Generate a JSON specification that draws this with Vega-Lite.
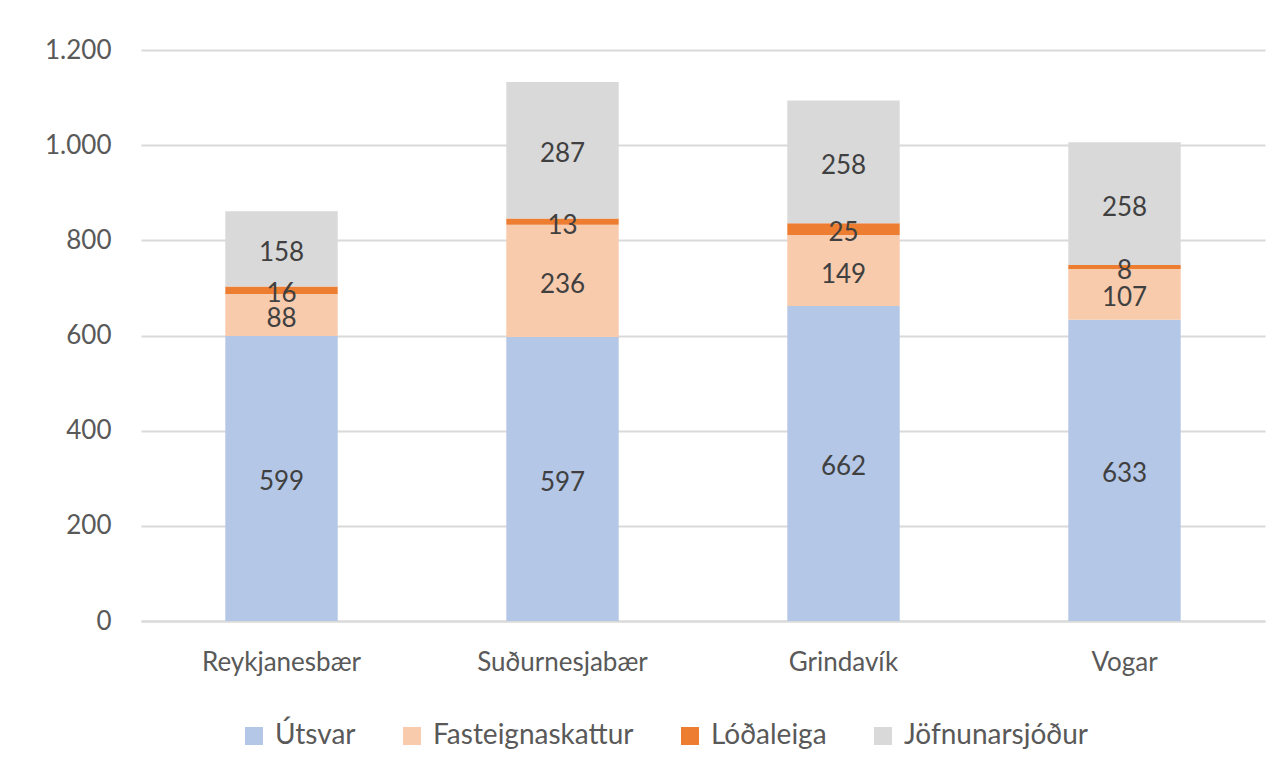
{
  "$schema": "https://vega.github.io/schema/vega-lite/v6.json",
  "width": 1124,
  "height": 571,
  "autosize": {"type": "none"},
  "padding": {"left": 141, "top": 50, "right": 21, "bottom": 162},
  "background": "white",
  "config": {
    "font": "Lato",
    "view": {"stroke": null}
  },
  "data": {
    "values": [
      {"sveitarfelag": "Reykjanesbær", "flokkur": "Útsvar", "rod": 1, "upphaed": 599},
      {"sveitarfelag": "Reykjanesbær", "flokkur": "Fasteignaskattur", "rod": 2, "upphaed": 88},
      {"sveitarfelag": "Reykjanesbær", "flokkur": "Lóðaleiga", "rod": 3, "upphaed": 16},
      {"sveitarfelag": "Reykjanesbær", "flokkur": "Jöfnunarsjóður", "rod": 4, "upphaed": 158},
      {"sveitarfelag": "Suðurnesjabær", "flokkur": "Útsvar", "rod": 1, "upphaed": 597},
      {"sveitarfelag": "Suðurnesjabær", "flokkur": "Fasteignaskattur", "rod": 2, "upphaed": 236},
      {"sveitarfelag": "Suðurnesjabær", "flokkur": "Lóðaleiga", "rod": 3, "upphaed": 13},
      {"sveitarfelag": "Suðurnesjabær", "flokkur": "Jöfnunarsjóður", "rod": 4, "upphaed": 287},
      {"sveitarfelag": "Grindavík", "flokkur": "Útsvar", "rod": 1, "upphaed": 662},
      {"sveitarfelag": "Grindavík", "flokkur": "Fasteignaskattur", "rod": 2, "upphaed": 149},
      {"sveitarfelag": "Grindavík", "flokkur": "Lóðaleiga", "rod": 3, "upphaed": 25},
      {"sveitarfelag": "Grindavík", "flokkur": "Jöfnunarsjóður", "rod": 4, "upphaed": 258},
      {"sveitarfelag": "Vogar", "flokkur": "Útsvar", "rod": 1, "upphaed": 633},
      {"sveitarfelag": "Vogar", "flokkur": "Fasteignaskattur", "rod": 2, "upphaed": 107},
      {"sveitarfelag": "Vogar", "flokkur": "Lóðaleiga", "rod": 3, "upphaed": 8},
      {"sveitarfelag": "Vogar", "flokkur": "Jöfnunarsjóður", "rod": 4, "upphaed": 258}
    ]
  },
  "encoding": {
    "x": {
      "field": "sveitarfelag",
      "type": "nominal",
      "sort": ["Reykjanesbær", "Suðurnesjabær", "Grindavík", "Vogar"],
      "scale": {"paddingInner": 0.6, "paddingOuter": 0.3},
      "axis": {
        "title": null,
        "labelAngle": 0,
        "labelFontSize": 26,
        "labelColor": "#595959",
        "labelPadding": 28,
        "ticks": false,
        "domain": true,
        "domainColor": "#D9D9D9",
        "domainWidth": 2
      }
    }
  },
  "layer": [
    {
      "mark": {"type": "bar"},
      "encoding": {
        "y": {
          "field": "upphaed",
          "type": "quantitative",
          "stack": "zero",
          "scale": {"domain": [0, 1200]},
          "axis": {
            "title": null,
            "values": [0, 200, 400, 600, 800, 1000, 1200],
            "labelExpr": "replace(format(datum.value, ','), ',', '.')",
            "labelFontSize": 26,
            "labelColor": "#595959",
            "labelPadding": 30,
            "ticks": false,
            "domain": false,
            "gridColor": "#D9D9D9",
            "gridWidth": 2
          }
        },
        "color": {
          "field": "flokkur",
          "type": "nominal",
          "sort": ["Útsvar", "Fasteignaskattur", "Lóðaleiga", "Jöfnunarsjóður"],
          "scale": {
            "domain": ["Útsvar", "Fasteignaskattur", "Lóðaleiga", "Jöfnunarsjóður"],
            "range": ["#B4C7E7", "#F8CBAD", "#ED7D31", "#D9D9D9"]
          },
          "legend": {
            "title": null,
            "orient": "none",
            "legendX": 99,
            "legendY": 672,
            "direction": "horizontal",
            "symbolType": "square",
            "symbolSize": 324,
            "symbolStrokeWidth": 0,
            "labelFontSize": 28,
            "labelColor": "#595959",
            "labelLimit": 0,
            "columnPadding": 42,
            "labelOffset": 7,
            "padding": 0
          }
        },
        "order": {"field": "rod", "type": "quantitative"}
      }
    },
    {
      "mark": {"type": "text", "fontSize": 26, "color": "#404040", "baseline": "middle", "dy": 4},
      "encoding": {
        "y": {"field": "upphaed", "type": "quantitative", "stack": "zero", "bandPosition": 0.5},
        "detail": {"field": "flokkur"},
        "order": {"field": "rod", "type": "quantitative"},
        "text": {"field": "upphaed", "type": "quantitative"}
      }
    }
  ]
}
